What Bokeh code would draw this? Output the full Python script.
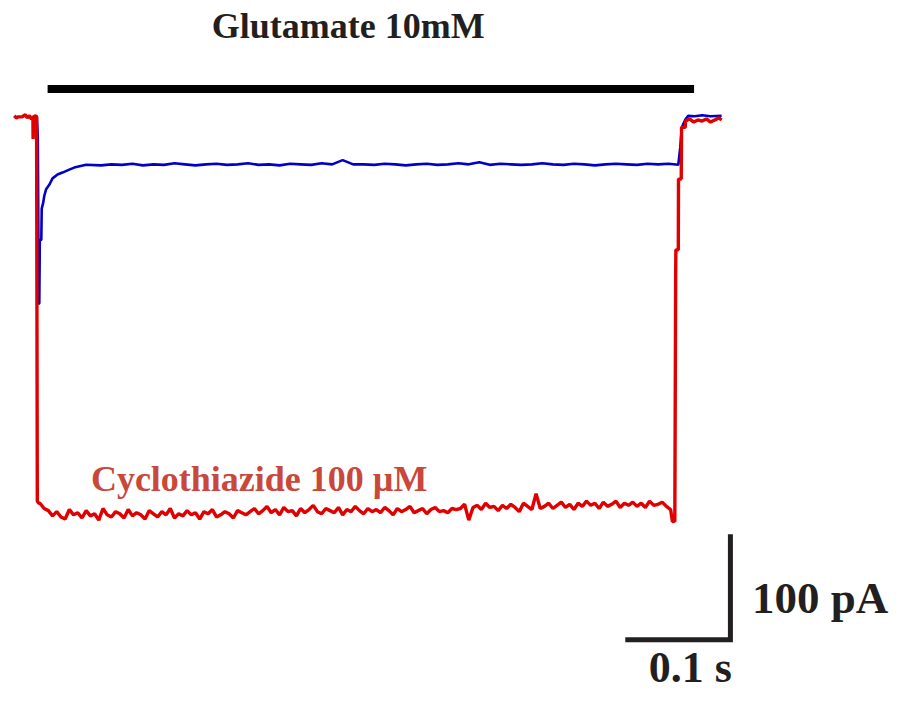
import numpy as np
from bokeh.plotting import figure
from bokeh.models import Range1d
from bokeh.core.properties import value
from bokeh.embed import file_html
from bokeh.resources import INLINE

# ---------------- data (time in s, current in pA) ----------------
# blue: control (glutamate alone), onset and desensitisation
blue_onset_t = [-0.0028, -0.0009, 0.0000, 0.0009, 0.0014, 0.0019, 0.0033, 0.0037,
                0.0051, 0.0061, 0.0079, 0.0112, 0.0140, 0.0187, 0.0234, 0.0299,
                0.0346, 0.0458]
blue_onset_i = [0.0, 0.0, -19.4, -176.9, -176.9, -116.7, -116.7, -87.0,
                -81.5, -75.0, -68.5, -63.9, -58.3, -54.6, -52.8, -50.0,
                -48.1, -45.4]
# steady-state part, sampled every 10 ms from 0.06 s to 0.60 s
blue_steady_t0 = 0.06
blue_steady_dt = 0.01
blue_steady_i = [-46, -45, -45.5, -44.5, -46, -45, -45.5, -44, -45, -46,
                 -45, -44.5, -45.5, -45, -44, -45.5, -45, -46, -44.5, -45,
                 -45.5, -44, -45, -41, -45, -45, -45.5, -44.5, -45, -46,
                 -45, -44.5, -45.5, -45, -44, -45, -43, -45.5, -44.5, -45,
                 -45.5, -45, -44, -45, -45.5, -44.5, -45, -46, -45, -44.5,
                 -45, -45.5, -44.5, -45, -44.5]
blue_off_t = [0.6093, 0.6112, 0.6126, 0.6159, 0.6187, 0.625, 0.632, 0.640, 0.6505]
blue_off_i = [-45.4, -28.7, -10.2, -2.8, 0.9, 0.5, 1.5, 0.5, 1.0]

# red: with cyclothiazide 100 uM
red_pre_t = [-0.0224, -0.0205, -0.0185, -0.0150, -0.0120, -0.0100, -0.0080, -0.0060,
             -0.0047, -0.0045, -0.0042, -0.0020, -0.0012, -0.0005, 0.0009]
red_pre_i = [1, -1, 0, 0, 2, -1, 1, -2, 0, -21, 0, 1, 0, -364, -366]
# plateau sampled every 4 ms from 0.002 s
red_band_t0 = 0.002
red_band_dt = 0.004
red_band_i = [-366, -371, -373,
              -378, -374, -379, -381, -372, -377, -375, -380, -373, -378,
              -376, -382, -371, -377, -379, -374, -376, -380, -372, -378,
              -375, -377, -381, -373, -376, -379, -374, -377, -371, -380,
              -376, -378, -373, -377, -375, -381, -374, -376, -372, -379,
              -377, -374, -376, -380, -373, -375, -377,
              -374, -371, -376, -373, -369, -375, -372, -377, -370, -374,
              -373, -378, -371, -375, -372, -368, -374, -376, -371, -373,
              -375, -370, -377, -372, -374, -369, -373, -376, -371, -374,
              -372, -375, -370, -373, -377, -371, -374, -372, -369, -375,
              -373, -371, -376, -372, -370, -374, -373, -375, -371, -372,
              -371, -367, -382, -370, -368, -372, -366, -370, -369, -373,
              -368, -371, -367, -370, -374, -366, -369, -372, -357, -371,
              -369, -366, -371, -368, -365, -370, -367, -372, -366, -369,
              -364, -368, -366, -371, -365, -369, -367, -364, -370, -366,
              -368, -365, -369, -366, -370, -364, -368, -367, -365, -369, -372]
red_off_t = [0.6037, 0.6060, 0.6068, 0.6070, 0.6093, 0.6095, 0.6121, 0.6124,
             0.6159, 0.6162, 0.620, 0.624, 0.628, 0.632, 0.636, 0.640, 0.644,
             0.648, 0.6505]
red_off_i = [-383.3, -383, -149, -126, -126, -59, -59, -10, -10, -4, -2, -5,
             -3, -4, -2, -5, -3, -1, -3]

# glutamate application period
glu_start, glu_end = 0.0093, 0.6243

# scale bar
scale_t = 0.1     # s
scale_i = 100.0   # pA

# ---------------- layout helpers (reference px -> data) ----------------
PX_S = 1070.0   # px per second
PX_PA = 1.08    # px per pA
X0, Y0 = 38.0, 119.0   # reference position of t=0, I=0
REF_W, REF_H = 908, 712
W, H = 892, 696
SY = H / REF_H


def tx(px):
    return (px - X0) / PX_S


def iy(py):
    return (Y0 - py) / PX_PA


def text_y(baseline_px, size_px):
    # compensate the renderer's baseline offset (~0.375 em)
    return iy(baseline_px - 0.375 * size_px / SY)


p = figure(width=W, height=H, output_backend="svg", toolbar_location=None,
           x_axis_type=None, y_axis_type=None,
           x_range=Range1d(tx(0), tx(REF_W)), y_range=Range1d(iy(REF_H), iy(0)),
           min_border=0, outline_line_color=None)
p.grid.visible = False
p.background_fill_color = "white"
p.border_fill_color = "white"

# blue trace
blue_steady_t = list(np.round(blue_steady_t0 + blue_steady_dt * np.arange(len(blue_steady_i)), 4))
bt = blue_onset_t + blue_steady_t + blue_off_t
bi = blue_onset_i + blue_steady_i + blue_off_i
p.line(bt, bi, line_color="#0000C8", line_width=2.6)

# red trace
red_band_t = list(np.round(red_band_t0 + red_band_dt * np.arange(len(red_band_i)), 4))
rt = red_pre_t + red_band_t + red_off_t
ri = red_pre_i + red_band_i + red_off_i
p.line(rt, ri, line_color="#E00000", line_width=3.4)

# glutamate bar
p.line([glu_start, glu_end], [iy(90.5), iy(90.5)], line_color="black", line_width=8)

# scale bar
cx, cy = tx(743), iy(654)
p.line([cx - scale_t, cx, cx], [cy, cy, cy + scale_i], line_color="#231F20",
       line_width=5, line_join="miter")

font = value("Liberation Serif")
p.text([tx(354)], [text_y(39.5, 36)], text=["Glutamate 10mM"], text_font=font,
       text_font_size="36px", text_font_style="bold", text_color="#231F20",
       text_align="center", text_baseline="alphabetic")
p.text([tx(92)], [text_y(503, 36)], text=["Cyclothiazide 100 \u00b5M"], text_font=font,
       text_font_size="36px", text_font_style="bold", text_color="#C9473B",
       text_align="left", text_baseline="alphabetic")
p.text([tx(765)], [text_y(629, 45)], text=[f"{scale_i:.0f} pA"], text_font=font,
       text_font_size="45px", text_font_style="bold", text_color="#231F20",
       text_align="left", text_baseline="alphabetic")
p.text([tx(660)], [text_y(699, 44)], text=[f"{scale_t:g} s"], text_font=font,
       text_font_size="44px", text_font_style="bold", text_color="#231F20",
       text_align="left", text_baseline="alphabetic")

open("out.html", "w").write(file_html(p, INLINE))
